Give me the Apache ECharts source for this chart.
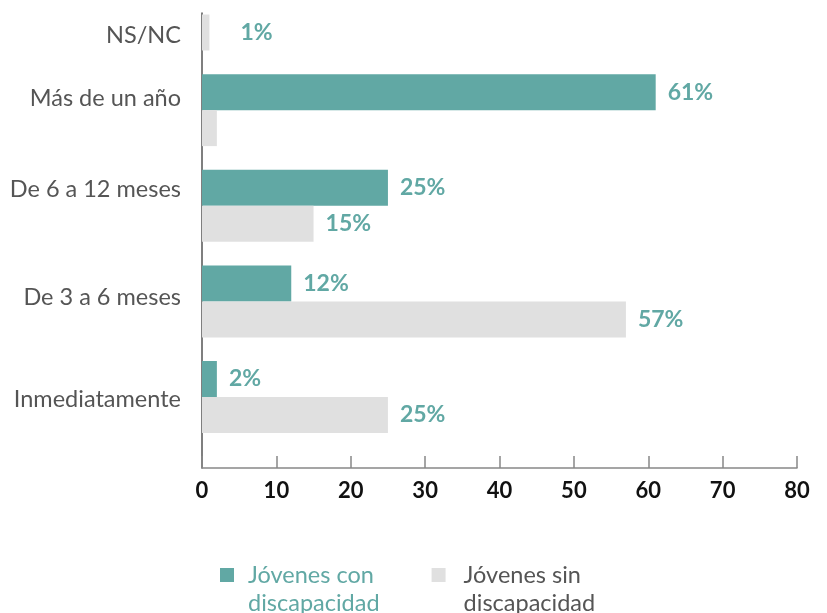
<!DOCTYPE html>
<html>
<head>
<meta charset="utf-8">
<script src="https://cdn.jsdelivr.net/npm/echarts@6/dist/echarts.min.js"></script>
<style>html,body{margin:0;padding:0;background:#fff}#c{width:827px;height:613px}</style>
</head>
<body>
<div id="c"></div>
<script>
// ---- data ----
const categories = ['Inmediatamente', 'De 3 a 6 meses', 'De 6 a 12 meses', 'Más de un año', 'NS/NC'];
const seriesNames = ['Jóvenes con discapacidad', 'Jóvenes sin discapacidad'];
const conValues = [2, 12, 25, 61, 0];
const sinValues = [25, 57, 15, 2, 1];
const hiddenSinLabels = ['Más de un año'];
const xMin = 0, xMax = 80, xStep = 10;

// ---- style ----
const TEAL = '#61a8a4';
const GRAY = '#e0e0e0';
const FONT = 'Lato';
// vertical nudge of category labels (px, + = down)
const catShift = { 'NS/NC': 21, 'Más de un año': -12, 'De 6 a 12 meses': -16, 'De 3 a 6 meses': -4, 'Inmediatamente': 2 };
const rich = { t: { color: '#555', fontFamily: FONT, fontSize: 23.5, lineHeight: 28 } };
Object.values(catShift).forEach(s => { rich['sp' + Math.abs(s)] = { lineHeight: 2 * Math.abs(s), fontSize: 1 }; });
const catFormatter = c => {
  const s = catShift[c] || 0;
  if (s > 0) return '{sp' + s + '| }\n{t|' + c + '}';
  if (s < 0) return '{t|' + c + '}\n{sp' + (-s) + '| }';
  return '{t|' + c + '}';
};
const valLabel = { show: true, position: 'right', distance: 12, color: TEAL, fontFamily: FONT, fontSize: 23, fontWeight: 'bold', formatter: p => p.value + '%' };

const chart = echarts.init(document.getElementById('c'), null, { renderer: 'canvas' });
chart.setOption({
  animation: false,
  grid: [
    { left: 202, right: 30, top: 9, bottom: 216 },
    { left: 202, right: 30, top: 13, bottom: 145 }
  ],
  legend: {
    left: 215, top: 528, itemWidth: 14, itemHeight: 14, itemGap: 52, icon: 'rect',
    formatter: n => ' \n' + n.replace(/ (discapacidad)$/, '\n$1'),
    textStyle: { fontFamily: FONT, fontSize: 23.5, lineHeight: 28 },
    data: [
      { name: seriesNames[0], textStyle: { color: TEAL, padding: [0, 0, 0, 9] } },
      { name: seriesNames[1], textStyle: { color: '#555', padding: [0, 0, 0, 13] } }
    ]
  },
  xAxis: [
    { gridIndex: 0, type: 'value', min: xMin, max: xMax, interval: xStep, show: false },
    { gridIndex: 1, type: 'value', min: xMin, max: xMax, interval: xStep,
      axisLine: { show: true, onZero: false, lineStyle: { color: '#888', width: 1.5 } },
      axisTick: { show: true, inside: true, length: 12, lineStyle: { color: '#888', width: 1.5 } },
      splitLine: { show: false },
      axisLabel: { color: '#111', fontFamily: FONT, fontSize: 22, fontWeight: 'bold', margin: 12 } }
  ],
  yAxis: [
    { gridIndex: 0, type: 'category', boundaryGap: false, data: categories,
      axisLine: { show: false }, axisTick: { show: false }, splitLine: { show: false },
      axisLabel: { margin: 21, formatter: catFormatter, rich: rich } },
    { gridIndex: 1, type: 'value', min: 0, max: 1,
      axisLine: { show: true, lineStyle: { color: '#555', width: 1.5 } },
      axisTick: { show: false }, axisLabel: { show: false }, splitLine: { show: false } }
  ],
  series: [
    { name: seriesNames[0], type: 'bar', xAxisIndex: 0, yAxisIndex: 0, barWidth: 36, barGap: '0%', clip: false,
      itemStyle: { color: TEAL },
      label: valLabel,
      data: conValues.map(v => ({ value: v, label: { show: v > 0 } })) },
    { name: seriesNames[1], type: 'bar', xAxisIndex: 0, yAxisIndex: 0, barWidth: 36, barGap: '0%', clip: false,
      itemStyle: { color: GRAY },
      label: valLabel,
      data: sinValues.map((v, i) => ({ value: v, label: hiddenSinLabels.includes(categories[i]) ? { show: false } : (categories[i] === 'NS/NC' ? { distance: 31 } : {}) })) }
  ]
});
</script>
</body>
</html>
